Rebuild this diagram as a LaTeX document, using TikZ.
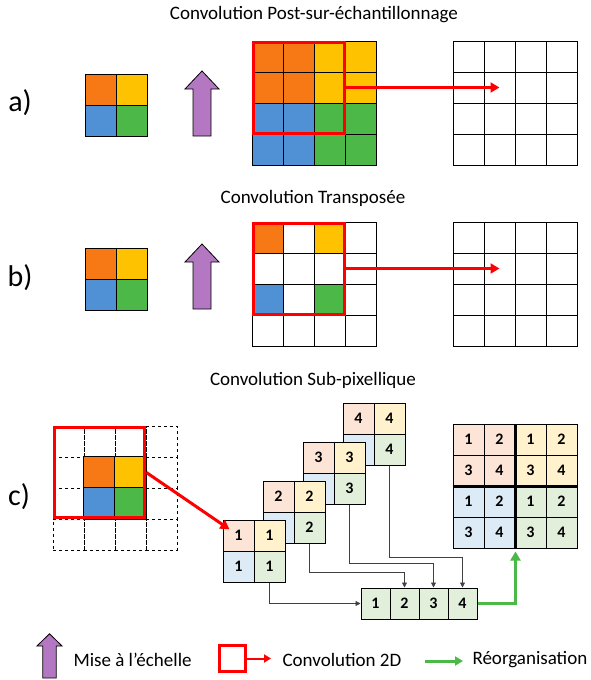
\documentclass[tikz,border=0pt]{standalone}
\usepackage{fontspec}
\setmainfont{Carlito}
\usetikzlibrary{calc,positioning,fit,arrows.meta}

\definecolor{q11}{RGB}{247,121,22}
\definecolor{q12}{RGB}{255,194,0}
\definecolor{q21}{RGB}{80,144,212}
\definecolor{q22}{RGB}{76,184,72}
\definecolor{l11}{RGB}{252,228,214}
\definecolor{l12}{RGB}{255,242,204}
\definecolor{l21}{RGB}{221,235,247}
\definecolor{l22}{RGB}{226,239,218}
\definecolor{mauve}{RGB}{180,120,195}
\definecolor{cReorg}{RGB}{76,184,72}

\newcommand\ttlfont{\fontsize{19}{23}\selectfont}
\newcommand\lblfont{\fontsize{30}{36}\selectfont}
\newcommand\numfont{\fontsize{16}{19}\selectfont\bfseries}

\tikzset{
  cell/.style={draw, line width=1pt, minimum size=31pt, inner sep=0pt, font=\numfont},
  rowcell/.style={cell, minimum width=29pt, fill=l22},
  redbox/.style={draw=red, line width=3pt},
  conv/.style={red, line width=3pt, -{Triangle[length=9pt,width=10pt]}},
  link/.style={black!75, line width=0.8pt, -{Triangle[length=5pt,width=5pt]}},
  reorgarrow/.style={cReorg, line width=3pt, -{Triangle[length=9pt,width=10pt]}},
  upscale/.pic={\draw[line width=0.8pt, fill=mauve] (-9,0) -- (-9,-47) -- (-17,-47)
      -- (0,-65) -- (17,-47) -- (9,-47) -- (9,0) -- cycle;}
}

\begin{document}
\begin{tikzpicture}[x=1pt,y=-1pt]
\useasboundingbox (0,0) rectangle (591,680);

% a) post-sur-echantillonnage
\node[font=\ttlfont] (ta) at (314,15) {Convolution Post-sur-échantillonnage};
\node[font=\lblfont] (la) at (20,103) {a)};
\foreach \i in {1,2}{
	\foreach \j in {1,2}{
		\node[cell, fill=q\i\j] (as-\i-\j) at ({85+31*\j-15.5},{74+31*\i-15.5}) {};
		}
		}
\pic at (202,136) {upscale};
\foreach \i in {1,...,4}{
	\foreach \j in {1,...,4}{
		\pgfmathtruncatemacro\qi{(\i+1)/2}
		\pgfmathtruncatemacro\qj{(\j+1)/2}
		\node[cell, fill=q\qi\qj] (ab-\i-\j) at ({252+31*\j-15.5},{41+31*\i-15.5}) {};
		\node[cell] (ao-\i-\j) at ({453+31*\j-15.5},{41+31*\i-15.5}) {};
		}
		}
\node[redbox, fit=(ab-1-1)(ab-3-3), inner sep=-1.5pt] (aconv) {};
\draw[conv] (aconv.east) -- (ao-2-2.center);

% b) transposee
\node[font=\ttlfont] (tb) at (313,198) {Convolution Transposée};
\node[font=\lblfont] (lb) at (20,278) {b)};
\foreach \i in {1,2}{
	\foreach \j in {1,2}{
		\node[cell, fill=q\i\j] (bs-\i-\j) at ({85+31*\j-15.5},{248+31*\i-15.5}) {};
		}
		}
\pic at (202,309) {upscale};
\foreach \i in {1,...,4}{
	\foreach \j in {1,...,4}{
		\pgfmathtruncatemacro\qi{(\i+1)/2}
		\pgfmathtruncatemacro\qj{(\j+1)/2}
		\pgfmathtruncatemacro\odd{mod(\i,2)*mod(\j,2)}
		\def\fillc{white}
		\ifnum\odd=1 \edef\fillc{q\qi\qj}\fi
		\node[cell, fill=\fillc] (bb-\i-\j) at ({252+31*\j-15.5},{222+31*\i-15.5}) {};
		\node[cell] (bo-\i-\j) at ({453+31*\j-15.5},{222+31*\i-15.5}) {};
		}
		}
\node[redbox, fit=(bb-1-1)(bb-3-3), inner sep=-1.5pt] (bconv) {};
\draw[conv] (bconv.east) -- (bo-2-2.center);

% c) sub-pixellique
\node[font=\ttlfont] (tc) at (313,380) {Convolution Sub-pixellique};
\node[font=\lblfont] (lc) at (19,497) {c)};
\foreach \i in {1,...,4}{
	\foreach \j in {1,...,4}{
		\node[cell, dashed, line width=0.8pt] (cp-\i-\j) at ({53+31*\j-15.5},{426+31*\i-15.5}) {};
		}
		}
\foreach \i/\j in {2/2,2/3,3/2,3/3}{
	\pgfmathtruncatemacro\qi{\i-1}
	\pgfmathtruncatemacro\qj{\j-1}
	\draw[line width=1pt, fill=q\qi\qj] (cp-\i-\j.north west) rectangle (cp-\i-\j.south east);
	}
\node[redbox, fit=(cp-1-1)(cp-3-3), inner sep=-1.5pt] (cconv) {};

\foreach \k in {4,3,2,1}{
	\foreach \i in {1,2}{
		\foreach \j in {1,2}{
			\node[cell, fill=l\i\j] (s\k-\i-\j) at ({223+40*(\k-1)+31*\j-15.5},{520-39*(\k-1)+31*\i-15.5}) {\k};
			}
			}
			}
\draw[conv, shorten >=11pt] (cconv.east) -- (s1-1-1.center);

\foreach \j in {1,...,4}
	\node[rowcell] (r-\j) at ({361+29*\j-14.5},603.5) {\j};
\draw[link] (s1-2-2.south) |- (r-1.west);
\foreach \k/\h in {2/15,3/24,4/30}
	\draw[link] (s\k-2-2.south) |- ([yshift=\h pt]r-\k.north) -- (r-\k.north);

\foreach \i in {1,...,4}{
	\foreach \j in {1,...,4}{
		\pgfmathtruncatemacro\qi{(\i+1)/2}
		\pgfmathtruncatemacro\qj{(\j+1)/2}
		\pgfmathtruncatemacro\cellnum{2*mod(\i-1,2)+mod(\j-1,2)+1}
		\node[cell, fill=l\qi\qj] (f-\i-\j) at ({453+31*\j-15.5},{424+31*\i-15.5}) {\cellnum};
		}
		}
\draw[line width=2.5pt] (f-1-2.north east) -- (f-4-2.south east);
\draw[line width=2.5pt] (f-2-1.south west) -- (f-2-4.south east);
\draw[reorgarrow] (r-4.east) -| ([yshift=-3pt]f-4-2.south east);

% legende
\pic[xscale=0.74, yscale=0.68] at (49.5,678) {upscale};
\node[font=\ttlfont, anchor=west] (lup) at (70,660) {Mise à l’échelle};
\node[redbox, minimum size=26pt, inner sep=0pt] (lconv) at (232.5,658.5) {};
\coordinate (lconvend) at (271,658.5);
\draw[red, line width=2pt, -{Triangle[length=7pt,width=8pt]}] (lconv.east) -- (lconvend);
\node[font=\ttlfont, anchor=west] (lconvtxt) at (279,660) {Convolution 2D};
\coordinate (lreorg1) at (425,661);
\coordinate (lreorg2) at (463,661);
\draw[cReorg, line width=3pt, -{Triangle[length=8pt,width=9pt]}] (lreorg1) -- (lreorg2);
\node[font=\ttlfont, anchor=west] (lreorgtxt) at (469,660) {Réorganisation};
\end{tikzpicture}
\end{document}
